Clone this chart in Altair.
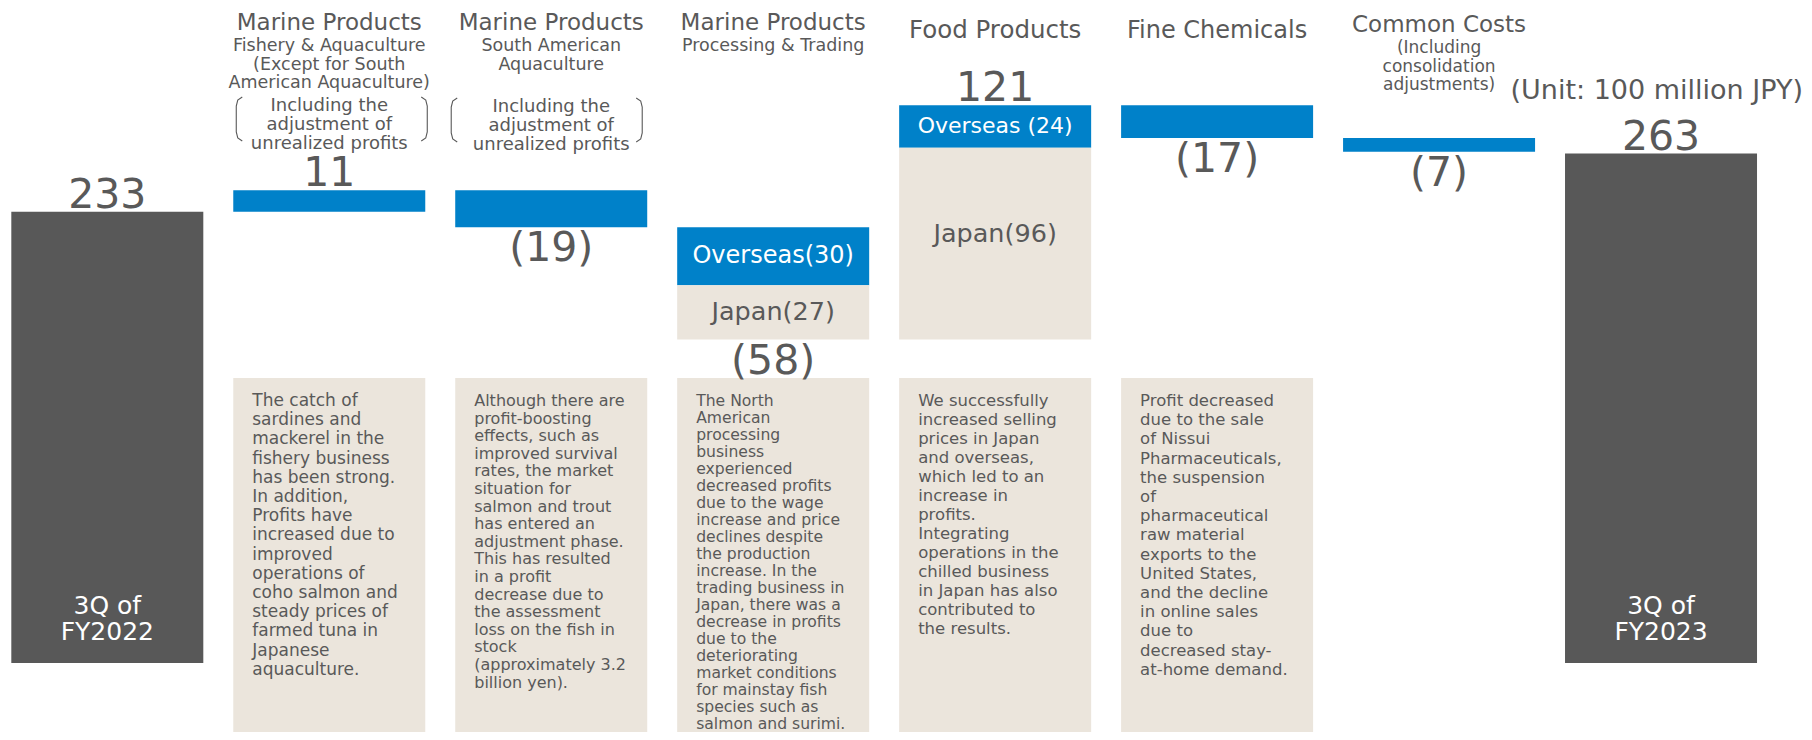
import altair as alt
import pandas as pd

# ---------------- data ----------------
categories = ["3Q of FY2022", "Fishery & Aquaculture", "South American Aquaculture",
              "Processing & Trading", "Food Products", "Fine Chemicals", "Common Costs", "3Q of FY2023"]
start_value = 233
deltas = [11, -19, -58, 121, -17, -7]
end_value = 263
value_labels = ["233", "11", "(19)", "(58)", "121", "(17)", "(7)", "263"]

# split bars (sizes of the overseas part)
split_index = [3, 4]
split_overseas_labels = ["Overseas(30)", "Overseas (24)"]
split_overseas_sizes = [30, 22]
split_japan_labels = ["Japan(27)", "Japan(96)"]
split_japan_label_frac = [0.5, 0.55]
split_overseas_fonts = [24, 22]

main_headers = ["", "Marine Products", "Marine Products", "Marine Products",
                "Food Products", "Fine Chemicals", "Common Costs", ""]
sub_headers = ["", "Fishery & Aquaculture\n(Except for South\nAmerican Aquaculture)",
               "South American\nAquaculture", "Processing & Trading", "", "",
               "(Including\nconsolidation\nadjustments)", ""]
note_text = "Including the\nadjustment of\nunrealized profits"
note_index = [1, 2]
end_labels = ["3Q of\nFY2022", "3Q of\nFY2023"]
unit_text = "(Unit: 100 million JPY)"

box_index = [1, 2, 3, 4, 5]
box_texts = [
    "The catch of\nsardines and\nmackerel in the\nfishery business\nhas been strong.\nIn addition,\nProfits have\nincreased due to\nimproved\noperations of\ncoho salmon and\nsteady prices of\nfarmed tuna in\nJapanese\naquaculture.",
    "Although there are\nprofit-boosting\neffects, such as\nimproved survival\nrates, the market\nsituation for\nsalmon and trout\nhas entered an\nadjustment phase.\nThis has resulted\nin a profit\ndecrease due to\nthe assessment\nloss on the fish in\nstock\n(approximately 3.2\nbillion yen).",
    "The North\nAmerican\nprocessing\nbusiness\nexperienced\ndecreased profits\ndue to the wage\nincrease and price\ndeclines despite\nthe production\nincrease.  In the\ntrading business in\nJapan, there was a\ndecrease in profits\ndue to the\ndeteriorating\nmarket conditions\nfor mainstay fish\nspecies such as\nsalmon and surimi.",
    "We successfully\nincreased selling\nprices in Japan\nand overseas,\nwhich led to an\nincrease in\nprofits.\nIntegrating\noperations in the\nchilled business\nin Japan has also\ncontributed to\nthe results.",
    "Profit decreased\ndue to the sale\nof Nissui\nPharmaceuticals,\nthe suspension\nof\npharmaceutical\nraw material\nexports to the\nUnited States,\nand the decline\nin online sales\ndue to\ndecreased stay-\nat-home demand.",
]

# ---------------- styling / layout ----------------
DARK = "#585858"
BLUE = "#0081C9"
BEIGE = "#EBE5DC"
GRAY = "#595959"
FONT = "DejaVu Sans"

W, H = 1796, 724
PXU = 221.96           # px per category step
PXV = 1.937            # px per value unit
X0 = -0.4474
X1 = X0 + W / PXU
BASE = 655.0           # plot y of value 0
Y1 = BASE / PXV
Y0 = (BASE - H) / PXV
HALF = 96 / PXU

def v(page_y):
    return (BASE + 8 - page_y) / PXV

xs = alt.Scale(domain=[X0, X1], nice=False, zero=False)
ys = alt.Scale(domain=[Y0, Y1], nice=False, zero=False)

def X(f):
    return alt.X(f, type="quantitative", scale=xs, axis=None)

def Y(f):
    return alt.Y(f, type="quantitative", scale=ys, axis=None)

# ---------------- bars ----------------
levels = [start_value]
for d in deltas:
    levels.append(levels[-1] + d)

bars = [dict(i=0, lo=0, hi=start_value, c=DARK)]
seg_labels = []
for k, d in enumerate(deltas):
    i = k + 1
    lo, hi = min(levels[k], levels[k + 1]), max(levels[k], levels[k + 1])
    if i in split_index:
        s = split_index.index(i)
        ov = split_overseas_sizes[s]
        bars.append(dict(i=i, lo=hi - ov, hi=hi, c=BLUE))
        bars.append(dict(i=i, lo=lo, hi=hi - ov, c=BEIGE))
        seg_labels.append(dict(i=i, y=hi - ov / 2, t=split_overseas_labels[s], c="white", fs=split_overseas_fonts[s]))
        fr = split_japan_label_frac[s]
        seg_labels.append(dict(i=i, y=lo + (hi - ov - lo) * fr, t=split_japan_labels[s], c=GRAY, fs=25.5))
    else:
        bars.append(dict(i=i, lo=lo, hi=hi, c=BLUE))
bars.append(dict(i=7, lo=0, hi=end_value, c=DARK))
bars = pd.DataFrame(bars)
bars["xl"] = bars["i"] - HALF
bars["xr"] = bars["i"] + HALF

layers = []

# comment boxes
boxes = pd.DataFrame(dict(i=box_index))
boxes["xl"] = boxes["i"] - HALF
boxes["xr"] = boxes["i"] + HALF
boxes["top"] = v(378)
boxes["bot"] = Y0 - 1
layers.append(alt.Chart(boxes).mark_rect(color=BEIGE).encode(
    x=X("xl"), x2="xr", y=Y("top"), y2="bot"))

layers.append(alt.Chart(bars).mark_rect().encode(
    x=X("xl"), x2="xr", y=Y("lo"), y2="hi",
    color=alt.Color("c:N", scale=None)))

# box texts
box_fonts = [17, 16, 15.6, 16.5, 16.5]
box_lh = [19.2, 17.6, 17.0, 19.0, 19.2]
for k, i in enumerate(box_index):
    df = pd.DataFrame(dict(x=[i - HALF], y=[v(406)], t=[box_texts[k]]))
    layers.append(alt.Chart(df).mark_text(
        align="left", baseline="alphabetic", dx=19, font=FONT, fontSize=box_fonts[k],
        lineHeight=box_lh[k], lineBreak="\n", color=GRAY).encode(
        x=X("x"), y=Y("y"), text="t:N"))

# segment labels
for s in seg_labels:
    df = pd.DataFrame([s])
    layers.append(alt.Chart(df).mark_text(
        align="center", baseline="middle", font=FONT, fontSize=s["fs"]).encode(
        x=X("i"), y=Y("y"), text="t:N", color=alt.Color("c:N", scale=None)))

# value labels
pos_rows, neg_rows = [], []
for i, lab in enumerate(value_labels):
    sub = bars[bars["i"] == i]
    if i in (0, 7) or (i > 0 and deltas[i - 1] > 0):
        pos_rows.append(dict(i=i, y=sub["hi"].max(), t=lab))
    else:
        neg_rows.append(dict(i=i, y=sub["lo"].min(), t=lab))
layers.append(alt.Chart(pd.DataFrame(pos_rows)).mark_text(
    align="center", baseline="alphabetic", dy=-4, font=FONT, fontSize=41, color=GRAY).encode(
    x=X("i"), y=Y("y"), text="t:N"))
layers.append(alt.Chart(pd.DataFrame(neg_rows)).mark_text(
    align="center", baseline="top", dy=2, font=FONT, fontSize=41, color=GRAY).encode(
    x=X("i"), y=Y("y"), text="t:N"))

# end bar labels
ends = pd.DataFrame(dict(i=[0, 7], y=[v(606), v(606)], t=end_labels))
layers.append(alt.Chart(ends).mark_text(
    align="center", baseline="middle", font=FONT, fontSize=25, lineHeight=26,
    lineBreak="\n", color="white").encode(x=X("i"), y=Y("y"), text="t:N"))

# headers
hdr_base = [None, 29.5, 29.5, 29.5, 38, 38, 32, None]
hdr_size = [0, 23, 23, 23, 24.5, 24, 23, 0]
for i, h in enumerate(main_headers):
    if not h:
        continue
    df = pd.DataFrame(dict(i=[i], y=[v(hdr_base[i])], t=[h]))
    layers.append(alt.Chart(df).mark_text(
        align="center", baseline="alphabetic", font=FONT, fontSize=hdr_size[i], color=GRAY).encode(
        x=X("i"), y=Y("y"), text="t:N"))

sub_base = [None, 51, 51, 51, None, None, 53, None]
sub_size = [0, 17.5, 17.5, 17.5, 0, 0, 17, 0]
sub_lh = [0, 18.5, 18.5, 18.5, 0, 0, 18.5, 0]
for i, h in enumerate(sub_headers):
    if not h:
        continue
    df = pd.DataFrame(dict(i=[i], y=[v(sub_base[i])], t=[h]))
    layers.append(alt.Chart(df).mark_text(
        align="center", baseline="alphabetic", font=FONT, fontSize=sub_size[i],
        lineHeight=sub_lh[i], lineBreak="\n", color=GRAY).encode(
        x=X("i"), y=Y("y"), text="t:N"))

note_base = [110.5, 111.5]
for k, i in enumerate(note_index):
    df = pd.DataFrame(dict(i=[i], y=[v(note_base[k])], t=[note_text]))
    layers.append(alt.Chart(df).mark_text(
        align="center", baseline="alphabetic", font=FONT, fontSize=18,
        lineHeight=19.2, lineBreak="\n", color=GRAY).encode(
        x=X("i"), y=Y("y"), text="t:N"))

# brackets around notes
bracket_left_px = [3, -4]
bracket_right_px = [2, -5]
shape = [(6, 0), (1.5, 3), (0, 9), (0, 35), (1.5, 41), (6, 44)]
brows = []
for k, i in enumerate(note_index):
    top = 97 + k
    xl = i - HALF + bracket_left_px[k] / PXU
    xr = i + HALF + bracket_right_px[k] / PXU
    for n, (dxp, dyp) in enumerate(shape):
        brows.append(dict(b=f"L{i}", n=n, x=xl + dxp / PXU, y=v(top + dyp)))
        brows.append(dict(b=f"R{i}", n=n, x=xr - dxp / PXU, y=v(top + dyp)))
layers.append(alt.Chart(pd.DataFrame(brows)).mark_line(color=GRAY, strokeWidth=1.1).encode(
    x=X("x"), y=Y("y"), detail="b:N", order="n:Q"))

# unit text
unit = pd.DataFrame(dict(x=[X1 - 1 / PXU], y=[v(98.5)], t=[unit_text]))
layers.append(alt.Chart(unit).mark_text(
    align="right", baseline="alphabetic", font=FONT, fontSize=27, color=GRAY).encode(
    x=X("x"), y=Y("y"), text="t:N"))

chart = alt.layer(*layers).properties(
    width=W, height=H, padding=0,
    autosize=alt.AutoSizeParams(type="none"),
).configure_view(stroke=None)

chart.save("out.html", embed_options={"renderer": "svg", "actions": False})
